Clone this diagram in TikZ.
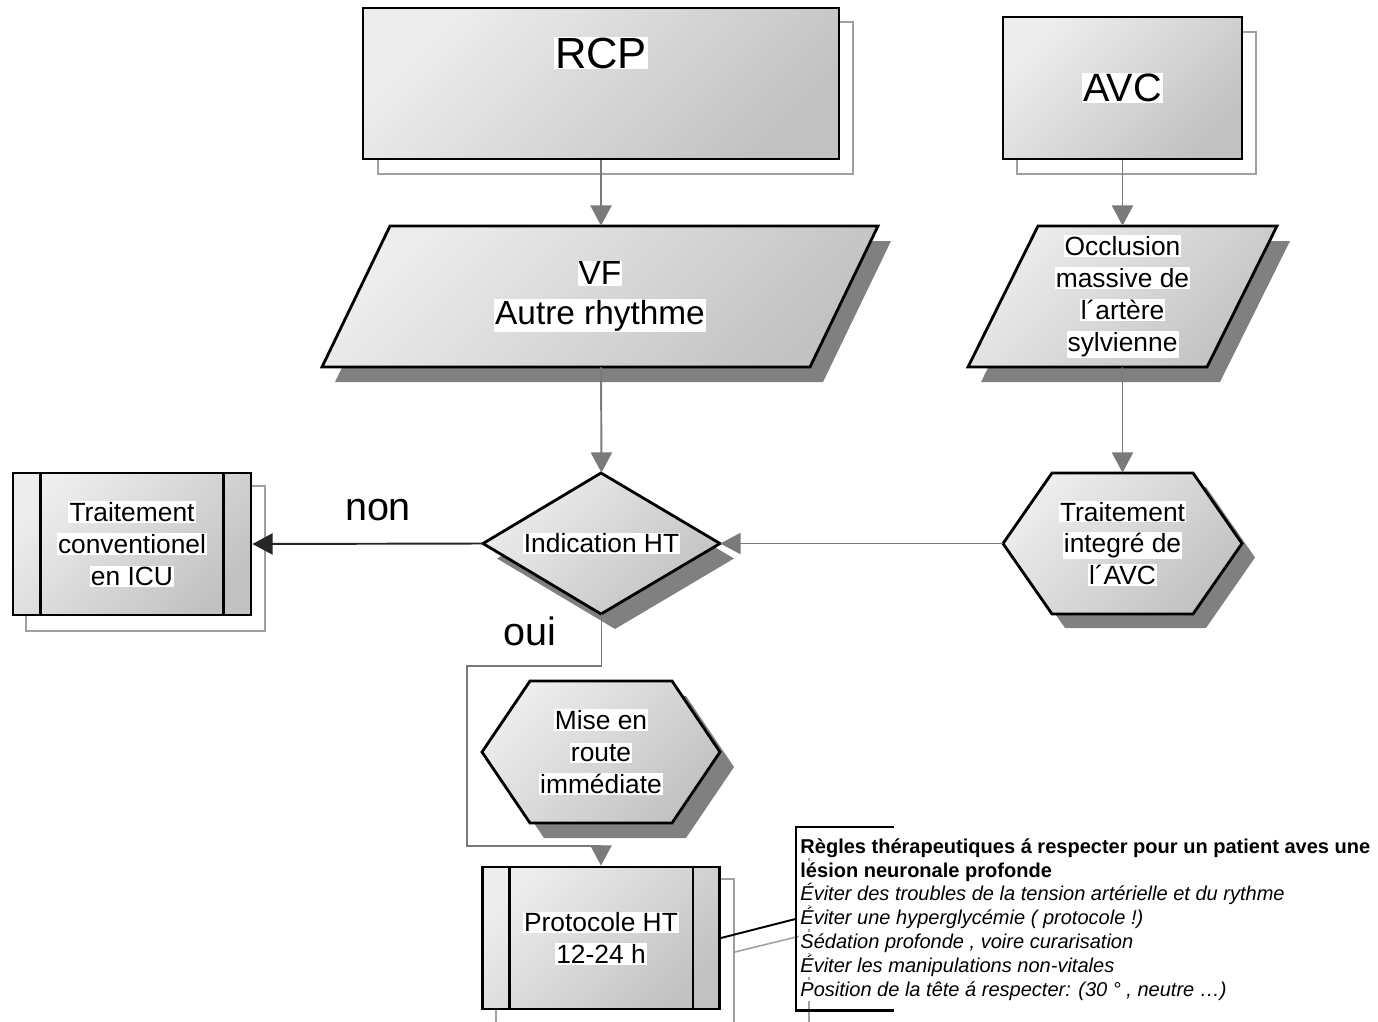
\documentclass[tikz,border=0pt]{standalone}
\usepackage{fontspec}
\setmainfont{Liberation Sans}
\usetikzlibrary{arrows.meta,calc}
\definecolor{gA}{HTML}{EDEDED}
\definecolor{gB}{HTML}{C2C2C2}
\definecolor{shd}{HTML}{808080}
\definecolor{cgray}{HTML}{7A7A7A}
\definecolor{sline}{HTML}{A0A0A0}
\setlength{\fboxsep}{0.6pt}
\newcommand\wb[1]{\colorbox{white}{#1}}
\begin{document}
\begin{tikzpicture}[x=0.02cm,y=-0.02cm,
  shaded/.style={shading=axis, top color=gA, bottom color=gB, shading angle=45, draw=black, line width=1.6pt, line join=miter},
  solidshadow/.style={fill=shd, draw=none},
  lineshadow/.style={draw=sline, line width=0.8pt, fill=none},
  nodetext/.style={align=center, inner sep=0pt, font=\fontsize{15pt}{18.1pt}\selectfont},
  garrow/.style={draw=cgray, line width=1.1pt, -{Triangle[width=12pt,length=11.5pt]}},
  barrow/.style={draw=black!85, line width=1.1pt, -{Triangle[width=12pt,length=11.5pt]}},
  bigtext/.style={inner sep=0pt, font=\fontsize{22.5pt}{27pt}\selectfont},
  anntext/.style={inner sep=0pt, anchor=base west, font=\fontsize{11.4pt}{13.6pt}\selectfont},
]
\useasboundingbox[fill=white] (0,0) rectangle (1378,1021);

% ---------- RCP ----------
\draw[lineshadow] (378,22) rectangle (853,174);
\node[shaded, inner sep=0pt, minimum width=476*0.02cm, minimum height=151*0.02cm] (rcp) at (601,83.5) {};
\node[inner sep=0pt, font=\fontsize{24.8pt}{30pt}\selectfont] (rcptext) at (601,53) {\wb{RCP}};

% ---------- AVC ----------
\draw[lineshadow] (1017,32) rectangle (1256,174);
\node[shaded, inner sep=0pt, minimum width=239*0.02cm, minimum height=142*0.02cm,
      font=\fontsize{22.5pt}{27pt}\selectfont] (avc) at (1122.5,88) {\wb{AVC}};

% ---------- VF parallelogram ----------
\path[solidshadow, shift={(13,15)}] (390,226) -- (878,226) -- (810,367) -- (322,367) -- cycle;
\path[shaded] (390,226) -- (878,226) -- (810,367) -- (322,367) -- cycle;
\node[nodetext, font=\fontsize{19pt}{22.7pt}\selectfont, minimum width=556*0.02cm, minimum height=141*0.02cm]
  (vf) at (600,296.5) {\wb{VF}\\\wb{Autre rhythme}};

% ---------- Occlusion parallelogram ----------
\path[solidshadow, shift={(13,15)}] (1038,226) -- (1277,226) -- (1207,367) -- (968,367) -- cycle;
\path[shaded] (1038,226) -- (1277,226) -- (1207,367) -- (968,367) -- cycle;
\node[nodetext, minimum width=309*0.02cm, minimum height=141*0.02cm]
  (occ) at (1122.5,296.5) {\wb{Occlusion}\\\wb{massive de}\\\wb{l´artère}\\\wb{sylvienne}};

% ---------- Diamond ----------
\path[solidshadow, shift={(14,15)}] (601,473) -- (720,543.5) -- (601,614) -- (483,543.5) -- cycle;
\path[shaded] (601,473) -- (720,543.5) -- (601,614) -- (483,543.5) -- cycle;
\node[nodetext, minimum width=237*0.02cm, minimum height=141*0.02cm]
  (dia) at (601.5,543.5) {\wb{Indication HT}};

% ---------- Hexagon Traitement integre ----------
\path[solidshadow, shift={(13,14)}] (1052,473) -- (1193,473) -- (1242,543.5) -- (1193,614) -- (1052,614) -- (1003,543.5) -- cycle;
\path[shaded] (1052,473) -- (1193,473) -- (1242,543.5) -- (1193,614) -- (1052,614) -- (1003,543.5) -- cycle;
\node[nodetext, minimum width=239*0.02cm, minimum height=141*0.02cm]
  (hexa) at (1122.5,543.5) {\wb{Traitement}\\\wb{integré de}\\\wb{l´AVC}};

% ---------- Traitement conventionel ----------
\draw[lineshadow] (26,486) rectangle (265,631);
\node[shaded, nodetext, minimum width=238*0.02cm, minimum height=142*0.02cm]
  (conv) at (132,544) {\wb{Traitement}\\\wb{conventionel}\\\wb{en ICU}};
\draw[black, line width=1.6pt] ($(conv.north west)+(29,0)$) -- ($(conv.south west)+(29,0)$);
\draw[black, line width=1.6pt] ($(conv.north east)+(-29,0)$) -- ($(conv.south east)+(-29,0)$);

% ---------- Mise en route hexagon ----------
\path[solidshadow, shift={(14,15)}] (530,681) -- (672,681) -- (720,752) -- (672,823) -- (530,823) -- (482,752) -- cycle;
\path[shaded] (530,681) -- (672,681) -- (720,752) -- (672,823) -- (530,823) -- (482,752) -- cycle;
\node[nodetext, minimum width=238*0.02cm, minimum height=142*0.02cm]
  (mise) at (601,752) {\wb{Mise en}\\\wb{route}\\\wb{immédiate}};

% ---------- Protocole ----------
\draw[lineshadow] (496,879) rectangle (734,1024);
\node[shaded, nodetext, minimum width=237*0.02cm, minimum height=142*0.02cm]
  (prot) at (601,938) {\wb{Protocole HT}\\\wb{12-24 h}};
\draw[black, line width=1.6pt] ($(prot.north west)+(28,0)$) -- ($(prot.south west)+(28,0)$);
\draw[black, line width=1.6pt] ($(prot.north east)+(-28,0)$) -- ($(prot.south east)+(-28,0)$);

% ---------- Annotation ----------
\draw[lineshadow] (809,842) -- (809,1030);
\node[inner sep=0pt, minimum width=97*0.02cm, minimum height=183*0.02cm, anchor=north west] (annbox) at (796,827) {};
\draw[sline, line width=0.9pt] ($(prot.east)+(14,14)$) -- ($(annbox.west)+(13,15)$);
\draw[black, line width=1.1pt] (prot.east) -- (annbox.west);
\draw[black, line width=1.6pt] (annbox.north east) -- (annbox.north west) -- (annbox.south west) -- (annbox.south east);
\node[anntext] (ann1) at (799,853) {\wb{\textbf{Règles thérapeutiques á respecter pour un patient aves une}}};
\node[anntext] (ann2) at (799,877) {\wb{\textbf{lésion neuronale profonde}}};
\node[anntext] (ann3) at (799,900) {\wb{\textit{Éviter des troubles de la tension artérielle et du rythme}}};
\node[anntext] (ann4) at (799,924) {\wb{\textit{Éviter une hyperglycémie ( protocole !)}}};
\node[anntext] (ann5) at (799,948) {\wb{\textit{Sédation profonde , voire curarisation}}};
\node[anntext] (ann6) at (799,972) {\wb{\textit{Éviter les manipulations non-vitales}}};
\node[anntext] (ann7) at (799,996) {\wb{\textit{Position de la tête á respecter: (30 ° , neutre …)}}};

% ---------- Connectors ----------
\draw[garrow] (rcp.south) -- (rcp.south |- vf.north);
\draw[garrow] (avc.south) -- (occ.north);
\draw[garrow] (rcp.south |- vf.south) -- (dia.north);
\draw[garrow] (occ.south) -- (hexa.north);
\draw[garrow] (hexa.west) -- (dia.east);
\draw[barrow] (dia.west) -- (conv.east);
\coordinate (k1) at (467,666);
\coordinate (k2) at (467,846);
\draw[garrow] (dia.south) -- (dia.south |- k1) -- (k1) -- (k2) -- (prot.north |- k2) -- (prot.north);

% ---------- Labels ----------
\node[bigtext, anchor=base] (non) at (378,520) {non};
\node[bigtext, anchor=base] (oui) at (530,645) {oui};
\end{tikzpicture}
\end{document}
